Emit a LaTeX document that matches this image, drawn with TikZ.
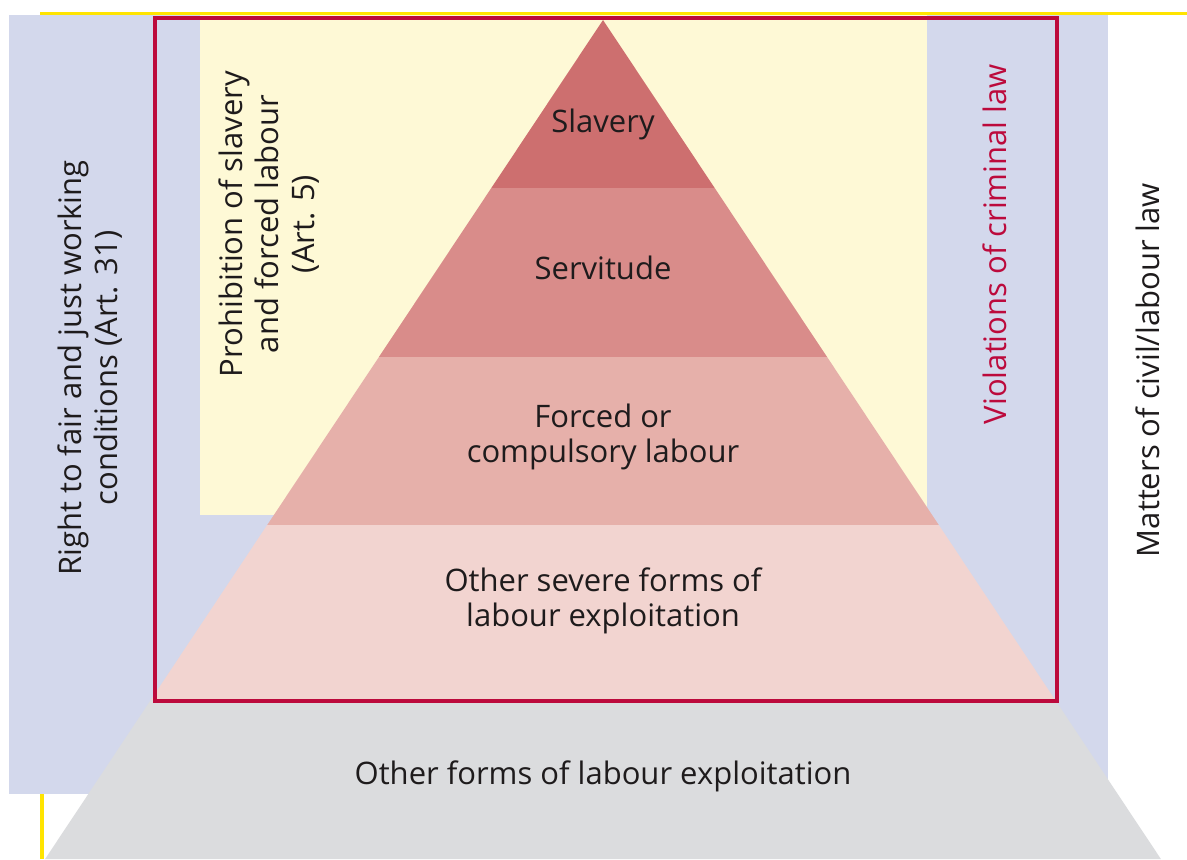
\documentclass[tikz,border=0pt]{standalone}
\usepackage{fontspec}
\setmainfont{Open Sans}
\definecolor{lav}{HTML}{D3D8EC}
\definecolor{paley}{HTML}{FEF9D6}
\definecolor{slav}{HTML}{CD6F6F}
\definecolor{serv}{HTML}{D98C8A}
\definecolor{forc}{HTML}{E6B0AA}
\definecolor{sev}{HTML}{F2D4D0}
\definecolor{greyl}{HTML}{DBDCDE}
\definecolor{crim}{HTML}{BC0A3C}
\definecolor{yline}{HTML}{FFE400}
\definecolor{txt}{HTML}{1E1B1C}
\begin{document}
\begin{tikzpicture}[x=0.5pt,y=-0.5pt,
  lbl/.style={text=txt,align=center,font=\fontsize{15.5}{17.5}\selectfont,inner sep=0pt},
  vlbl/.style={lbl,rotate=90}]
\useasboundingbox (0,0) rectangle (1187,859);
% yellow lines
\draw[yline,line width=1.6pt] (42,859) -- (42,13.5) -- (1187,13.5);
% lavender background
\fill[lav] (9,15) rectangle (1108,794);
% pale yellow
\fill[paley] (200,15) rectangle (927,515);
% pyramid layers
\fill[slav] (603,20) -- (714.7,188) -- (491.3,188) -- cycle;
\fill[serv] (491.3,188) -- (714.7,188) -- (827.1,357) -- (378.9,357) -- cycle;
\fill[forc] (378.9,357) -- (827.1,357) -- (938.8,525) -- (267.2,525) -- cycle;
\fill[sev] (267.2,525) -- (938.8,525) -- (1055.2,700) -- (150.8,700) -- cycle;
\fill[greyl] (150.8,700) -- (1055.2,700) -- (1160.9,859) -- (45.1,859) -- cycle;
% red border
\draw[crim,line width=2pt] (155,17.5) rectangle (1057,701);
% labels
\node[lbl] (slavery) at (603,124) {Slavery};
\node[lbl] (servitude) at (603,268) {Servitude};
\node[lbl] (forced) at (603,437) {Forced or\\compulsory labour};
\node[lbl] (severe) at (603,601) {Other severe forms of\\labour exploitation};
\node[lbl] (other) at (603,776) {Other forms of labour exploitation};
\node[vlbl,font=\fontsize{15.5}{18}\selectfont] (right) at (90,368) {Right to fair and just working\\conditions (Art. 31)};
\node[vlbl,font=\fontsize{15.5}{18}\selectfont] (prohib) at (269,224) {Prohibition of slavery\\and forced labour\\(Art. 5)};
\node[vlbl,text=crim] (crimlaw) at (995,244) {Violations of criminal law};
\node[vlbl] (civil) at (1148,370) {Matters of civil/labour law};
\end{tikzpicture}
\end{document}
